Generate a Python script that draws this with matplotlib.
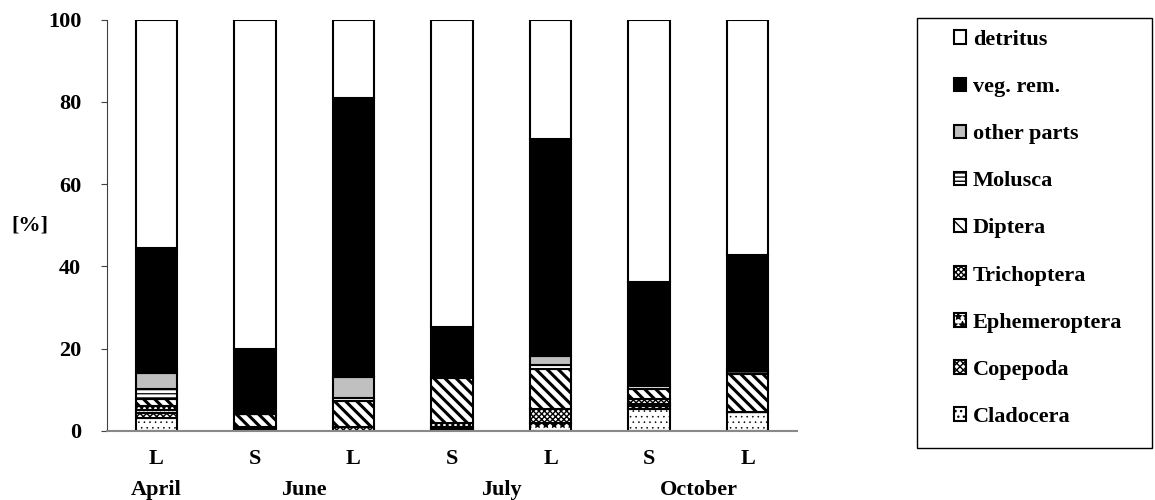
import numpy as np
import matplotlib
matplotlib.use("Agg")
import matplotlib.pyplot as plt
import matplotlib.transforms as mtransforms
from matplotlib.patches import Rectangle

plt.rcParams['font.family'] = ['Liberation Serif', 'DejaVu Serif']
plt.rcParams['font.weight'] = 'bold'
plt.rcParams['hatch.linewidth'] = 1.0

# bar categories (sample type) and month labels
samples = ["L", "S", "L", "S", "L", "S", "L"]
months = ["April", "June", "July", "October"]
month_pos = [0, 1.5, 3.5, 5.5]

# food components, % share, stacked bottom-up
cladocera = [3.0, 0.5, 0.0, 0.5, 0.0, 5.3, 4.5]
copepoda = [1.4, 0.0, 1.0, 0.5, 0.0, 0.8, 0.0]
ephemeroptera = [0.6, 0.5, 0.0, 0.0, 1.8, 0.3, 0.0]
trichoptera = [1.0, 0.0, 0.0, 0.8, 3.5, 1.2, 0.0]
diptera = [1.6, 3.0, 6.2, 11.0, 9.7, 2.5, 9.4]
molusca = [2.5, 0.0, 0.8, 0.5, 1.0, 0.7, 0.7]
other_parts = [3.9, 0.0, 5.0, 0.0, 2.2, 0.0, 0.0]
veg_rem = [30.5, 16.0, 68.0, 11.9, 52.8, 25.4, 28.1]
detritus = [55.5, 80.0, 19.0, 74.8, 29.0, 63.8, 57.3]

# name, values, face colour, hatch, hatch line width
series = [
    ("Cladocera", cladocera, "white", "...", 0.4),
    ("Copepoda", copepoda, "white", "xxxxx", 1.0),
    ("Ephemeroptera", ephemeroptera, "white", "**", 0.8),
    ("Trichoptera", trichoptera, "white", "xxxxxx", 1.0),
    ("Diptera", diptera, "white", "\\\\\\", 2.2),
    ("Molusca", molusca, "white", "----", 0.9),
    ("other parts", other_parts, "#c0c0c0", None, 1.0),
    ("veg. rem.", veg_rem, "black", None, 1.0),
    ("detritus", detritus, "white", None, 1.0),
]

fig = plt.figure(figsize=(11.55, 5.0), dpi=100)
ax = fig.add_axes([0.0926, 0.1386, 0.5974, 0.822])

x = np.arange(len(samples))
bottom = np.zeros(len(samples))
handles = []
for name, vals, fc, hatch, hlw in series:
    vals = np.array(vals)
    b = ax.bar(x, vals, width=0.42, bottom=bottom, color=fc, edgecolor="black",
               linewidth=1.5, hatch=hatch, label=name)
    for p in b.patches:
        if hasattr(p, "set_hatch_linewidth"):
            p.set_hatch_linewidth(hlw)
    handles.append(b)
    bottom += vals

ax.set_xlim(-0.5, 6.5)
ax.set_ylim(0, 100)
ax.set_yticks([0, 20, 40, 60, 80, 100])
ax.set_xticks(x)
ax.set_xticklabels(samples)
ax.tick_params(axis="x", length=0, pad=13, labelsize=16)
ax.tick_params(axis="y", length=4.5, width=0.8, pad=14, labelsize=16, color="#404040")
for s in ["top", "right"]:
    ax.spines[s].set_visible(False)
ax.spines["left"].set_color("#404040")
ax.spines["left"].set_linewidth(0.8)
ax.spines["bottom"].set_color("#888888")
ax.spines["bottom"].set_linewidth(1.5)

ax.text(-0.112, 0.5, "[%]", transform=ax.transAxes, ha="center", va="center",
        fontsize=16, fontweight="bold")

trans = mtransforms.blended_transform_factory(ax.transData, ax.transAxes)
for m, p in zip(months, month_pos):
    ax.text(p, -0.144, m, transform=trans, ha="center", va="center",
            fontsize=16, fontweight="bold")

# legend frame drawn separately so its size matches the original
fig.patches.append(Rectangle((0.794, 0.104), 0.2035, 0.860, transform=fig.transFigure,
                             fill=False, edgecolor="black", linewidth=1.0))
leg = fig.legend(handles[::-1], [s[0] for s in series][::-1],
                 loc="upper left", bbox_to_anchor=(0.826, 0.940),
                 frameon=False, fontsize=16, handlelength=0.55, handleheight=0.55,
                 handletextpad=0.3, labelspacing=1.22, borderpad=0,
                 borderaxespad=0)
for t in leg.get_texts():
    t.set_fontweight("bold")

fig.savefig("out.png", dpi=100)
